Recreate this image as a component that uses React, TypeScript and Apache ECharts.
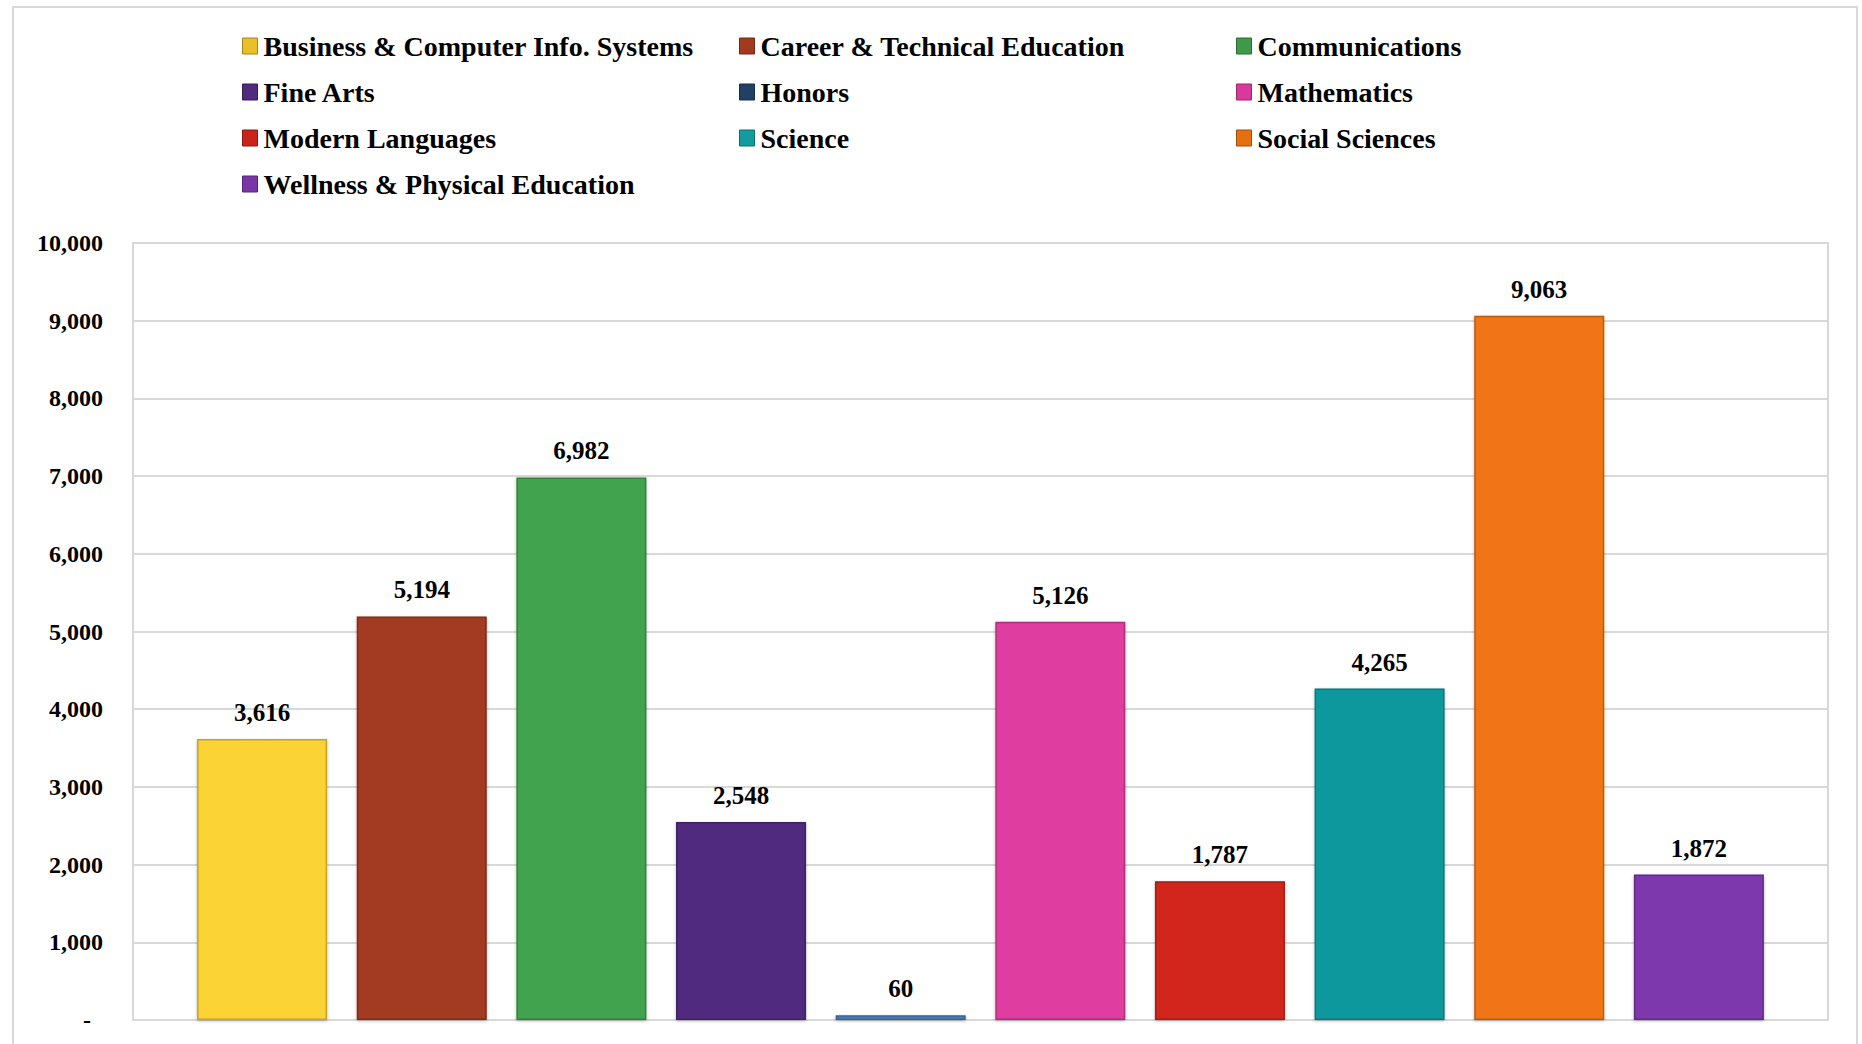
import React, { useEffect, useRef } from "react";
import * as echarts from "echarts";

const departments = [
  "Business & Computer Info. Systems",
  "Career & Technical Education",
  "Communications",
  "Fine Arts",
  "Honors",
  "Mathematics",
  "Modern Languages",
  "Science",
  "Social Sciences",
  "Wellness & Physical Education",
];
const enrollments = [3616, 5194, 6982, 2548, 60, 5126, 1787, 4265, 9063, 1872];
const barColors = [
  "#FBD334", "#A23A20", "#43A34F", "#4F2A7E", "#4A7DBE",
  "#E03CA0", "#D2261C", "#0F989D", "#F17512", "#7C37AC",
];
const legendColors = [
  "#E9C02A", "#A23A20", "#3E9A49", "#4F2A7E", "#223F66",
  "#D83A9A", "#C8241B", "#129CA0", "#E4700F", "#7836A8",
];
const legendColumns = [
  [0, 3, 6, 9],
  [1, 4, 7],
  [2, 5, 8],
];
const legendColumnX = [237, 734, 1231];
const yMin = 0;
const yMax = 10000;
const yInterval = 1000;

const FONT = '"Liberation Serif", "DejaVu Serif", serif';

function darken(hex: string, f: number) {
  const n = parseInt(hex.slice(1), 16);
  const r = Math.round(((n >> 16) & 255) * f);
  const g = Math.round(((n >> 8) & 255) * f);
  const b = Math.round((n & 255) * f);
  return `rgb(${r},${g},${b})`;
}

export default function App() {
  const ref = useRef<HTMLDivElement>(null);
  useEffect(() => {
    if (!ref.current) return;
    const chart = echarts.init(ref.current, null, { renderer: "svg" });
    const fmt = (v: number) => v.toLocaleString("en-US");
    const option: any = {
      animation: false,
      backgroundColor: "#fff",
      graphic: [
        {
          type: "rect",
          shape: { x: 13, y: 7, width: 1844, height: 1060 },
          style: { fill: "none", stroke: "#D9D9D9", lineWidth: 2 },
          silent: true,
          z: -1,
        },
      ],
      legend: legendColumns.map((col, ci) => ({
        orient: "vertical",
        left: legendColumnX[ci],
        top: 27,
        itemWidth: 15,
        itemHeight: 16,
        itemGap: 18,
        icon: "rect",
        data: col.map((i) => ({
          name: departments[i],
          itemStyle: { color: legendColors[i], borderColor: darken(legendColors[i], 0.7), borderWidth: 1 },
        })),
        textStyle: {
          fontFamily: FONT,
          fontWeight: "bold",
          fontSize: 28,
          lineHeight: 28,
          color: "#000",
          padding: [0, 0, 0, 1],
        },
        selectedMode: false,
      })),
      grid: { left: 133, right: 34, top: 243, bottom: 24, show: true, borderColor: "#D9D9D9", borderWidth: 2 },
      xAxis: {
        type: "category",
        data: [""],
        axisLine: { show: true, lineStyle: { color: "#D9D9D9", width: 2 } },
        axisTick: { show: false },
        axisLabel: { show: false },
      },
      yAxis: {
        type: "value",
        min: yMin,
        max: yMax,
        interval: yInterval,
        axisLine: { show: false },
        axisTick: { show: false },
        splitLine: { lineStyle: { color: "#D9D9D9", width: 2 } },
        axisLabel: {
          margin: 30,
          fontFamily: FONT,
          fontWeight: "bold",
          fontSize: 24,
          color: "#000",
          formatter: (v: number) => (v === 0 ? "{d|-}" : fmt(v)),
          rich: {
            d: { fontFamily: FONT, fontWeight: "bold", fontSize: 24, color: "#000", padding: [0, 12, 0, 0] },
          },
        },
      },
      series: departments.map((name, i) => ({
        name,
        type: "bar",
        data: [enrollments[i]],
        barWidth: 130,
        barGap: "22.8%",
        itemStyle: {
          color: barColors[i],
          borderColor: darken(barColors[i], 0.78),
          borderWidth: 1.5,
          shadowColor: "rgba(0,0,0,0.3)",
          shadowBlur: 3,
          shadowOffsetY: 1,
        },
        label: {
          show: true,
          position: "top",
          distance: 14,
          fontFamily: FONT,
          fontWeight: "bold",
          fontSize: 25,
          color: "#000",
          formatter: (p: any) => fmt(p.value),
        },
      })),
    };
    chart.setOption(option);
    return () => chart.dispose();
  }, []);
  return (
    <div
      ref={ref}
      style={{ position: "absolute", left: 0, top: 0, width: 1862, height: 1044, background: "#fff" }}
    />
  );
}
